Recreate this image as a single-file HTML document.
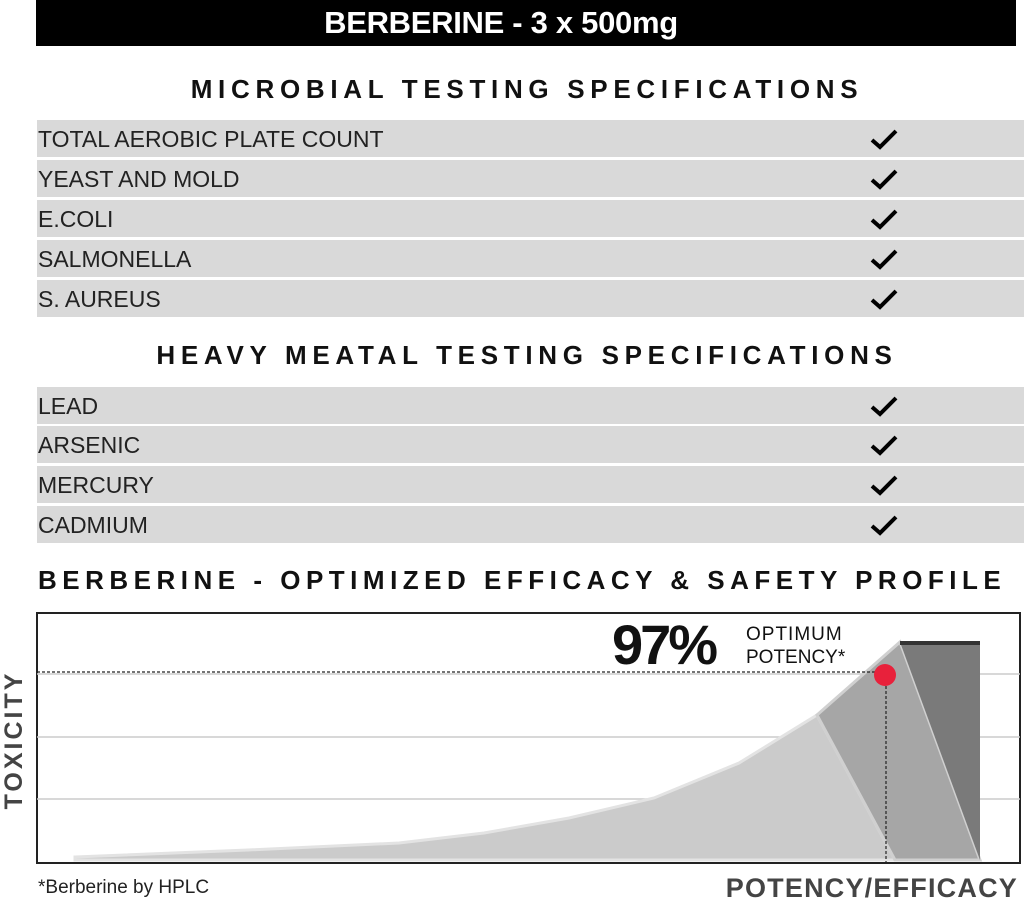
<!DOCTYPE html>
<html><head><meta charset="utf-8"><style>
body{margin:0;width:1024px;height:902px;background:#fff;position:relative;overflow:hidden;font-family:"Liberation Sans",sans-serif}
.a{position:absolute}
.bar{left:36px;top:0;width:980px;height:46px;background:#000;color:#fff;font-weight:bold;font-size:31px;text-align:center;line-height:46px;letter-spacing:-0.3px;text-indent:-50px}
.h{left:0;width:1054px;text-align:center;font-weight:bold;font-size:26px;letter-spacing:5.7px;color:#111}
.row{left:37px;width:987px;height:37px;background:#d9d9d9}
.row span{position:absolute;left:1px;top:6px;font-size:23px;color:#222;letter-spacing:0px}
.row svg{position:absolute;left:832px;top:7px}
</style></head><body>
<div class="a bar">BERBERINE - 3 x 500mg</div>
<div class="a h" style="top:74px">MICROBIAL TESTING SPECIFICATIONS</div>
<div class="a row" style="top:120px"><span>TOTAL AEROBIC PLATE COUNT</span><svg width="30" height="24"><polyline points="3,13 11,20 27,4" fill="none" stroke="#000" stroke-width="4"/></svg></div>
<div class="a row" style="top:160px"><span>YEAST AND MOLD</span><svg width="30" height="24"><polyline points="3,13 11,20 27,4" fill="none" stroke="#000" stroke-width="4"/></svg></div>
<div class="a row" style="top:200px"><span>E.COLI</span><svg width="30" height="24"><polyline points="3,13 11,20 27,4" fill="none" stroke="#000" stroke-width="4"/></svg></div>
<div class="a row" style="top:240px"><span>SALMONELLA</span><svg width="30" height="24"><polyline points="3,13 11,20 27,4" fill="none" stroke="#000" stroke-width="4"/></svg></div>
<div class="a row" style="top:280px"><span>S. AUREUS</span><svg width="30" height="24"><polyline points="3,13 11,20 27,4" fill="none" stroke="#000" stroke-width="4"/></svg></div>
<div class="a h" style="top:340px">HEAVY MEATAL TESTING SPECIFICATIONS</div>
<div class="a row" style="top:387px"><span>LEAD</span><svg width="30" height="24"><polyline points="3,13 11,20 27,4" fill="none" stroke="#000" stroke-width="4"/></svg></div>
<div class="a row" style="top:426px"><span>ARSENIC</span><svg width="30" height="24"><polyline points="3,13 11,20 27,4" fill="none" stroke="#000" stroke-width="4"/></svg></div>
<div class="a row" style="top:466px"><span>MERCURY</span><svg width="30" height="24"><polyline points="3,13 11,20 27,4" fill="none" stroke="#000" stroke-width="4"/></svg></div>
<div class="a row" style="top:506px"><span>CADMIUM</span><svg width="30" height="24"><polyline points="3,13 11,20 27,4" fill="none" stroke="#000" stroke-width="4"/></svg></div>
<div class="a h" style="top:565px;left:38px;width:990px;text-align:left;letter-spacing:5.5px">BERBERINE - OPTIMIZED EFFICACY &amp; SAFETY PROFILE</div>
<svg class="a" style="left:0;top:600px" width="1024" height="302">
<rect x="37" y="13" width="983" height="250" fill="#fff" stroke="#222" stroke-width="2"/>
<line x1="37" y1="74" x2="1020" y2="74" stroke="#ccc" stroke-width="1.5"/>
<line x1="37" y1="137" x2="1020" y2="137" stroke="#ccc" stroke-width="1.5"/>
<line x1="37" y1="199" x2="1020" y2="199" stroke="#ccc" stroke-width="1.5"/>
<polygon points="75,257 248,250 399,243 484,233 569,218 654,198 739,163 817,115 895,260 75,260" fill="#cbcbcb" stroke="#e3e3e3" stroke-width="3"/>
<polygon points="817,115 900,42 980,260 895,260" fill="#a6a6a6" stroke="#d0d0d0" stroke-width="3"/>
<polygon points="900,42 980,42 980,260" fill="#7a7a7a"/>
<rect x="900" y="41" width="80" height="4" fill="#333"/>
<line x1="37" y1="72" x2="880" y2="72" stroke="#222" stroke-width="1.2" stroke-dasharray="3,2"/>
<line x1="886" y1="76" x2="886" y2="262" stroke="#222" stroke-width="1.2" stroke-dasharray="3,2"/>
<circle cx="885" cy="75" r="11" fill="#e8213b"/>
<line x1="37" y1="263" x2="1020" y2="263" stroke="#222" stroke-width="2"/>
<text x="612" y="64" font-size="56" font-weight="bold" letter-spacing="-3" fill="#111">97%</text>
<text x="746" y="40" font-size="19" fill="#111" letter-spacing="1">OPTIMUM</text>
<text x="746" y="63" font-size="19" fill="#111">POTENCY*</text>
<text x="38" y="293" font-size="19" fill="#222">*Berberine by HPLC</text>
<text x="1018" y="297" font-size="27" font-weight="bold" fill="#444" text-anchor="end" letter-spacing="1.2">POTENCY/EFFICACY</text>
</svg>
<svg class="a" style="left:0;top:600px" width="40" height="220">
<text transform="translate(22,140) rotate(-90)" text-anchor="middle" font-size="25" font-weight="bold" fill="#444" letter-spacing="3">TOXICITY</text>
</svg>
</body></html>
